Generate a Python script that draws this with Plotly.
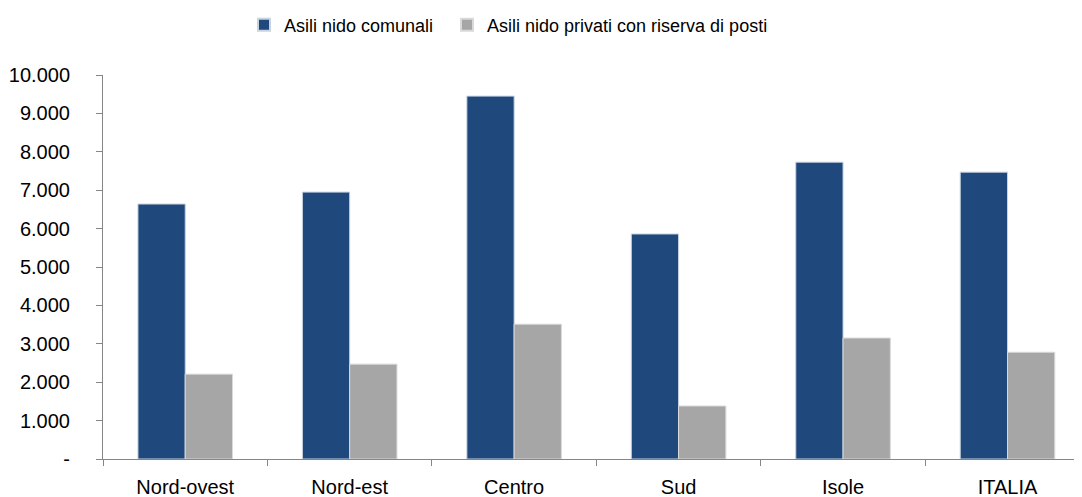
import plotly.graph_objects as go

categories = ["Nord-ovest", "Nord-est", "Centro", "Sud", "Isole", "ITALIA"]
comunali = [6640, 6950, 9450, 5860, 7730, 7470]
privati = [2210, 2470, 3510, 1380, 3150, 2780]
series_names = ["Asili nido comunali", "Asili nido privati con riserva di posti"]
y_tickvals = [0, 1000, 2000, 3000, 4000, 5000, 6000, 7000, 8000, 9000, 10000]
y_ticktext = ["-", "1.000", "2.000", "3.000", "4.000", "5.000", "6.000", "7.000", "8.000", "9.000", "10.000"]

FONT = "Liberation Sans, Arial, sans-serif"

fig = go.Figure()
fig.add_trace(go.Bar(x=categories, y=comunali, name=series_names[0], legend="legend",
                     marker=dict(color="#1F497D", line=dict(color="#c9d3e0", width=1))))
fig.add_trace(go.Bar(x=categories, y=privati, name=series_names[1], legend="legend2",
                     marker=dict(color="#A6A6A6", line=dict(color="#d9d9d9", width=1))))

leg_common = dict(orientation="h", xanchor="left", yref="container", y=0.965,
                  yanchor="middle", font=dict(family=FONT, size=18),
                  itemsizing="constant", itemwidth=30, bgcolor="rgba(0,0,0,0)")

# page has an 8px body margin, so the figure is sized to fit exactly
fig.update_layout(
    width=1074, height=489,
    margin=dict(l=95, r=0, t=67, b=38, autoexpand=False),
    paper_bgcolor="white", plot_bgcolor="white",
    barmode="group", bargap=0.425, bargroupgap=0,
    font=dict(family=FONT, size=20, color="#000000"),
    showlegend=True,
    legend=dict(x=0.144, **leg_common),
    legend2=dict(x=0.3514, **leg_common),
)
fig.update_xaxes(type="category", range=[-0.5, 5.453], tickson="boundaries",
                 showline=True, linecolor="#868686", linewidth=1,
                 ticks="outside", ticklen=6, tickcolor="#868686",
                 ticklabelstandoff=10, automargin=False,
                 showgrid=False, zeroline=False)
fig.update_yaxes(range=[0, 10000], tickvals=y_tickvals, ticktext=y_ticktext,
                 showline=True, linecolor="#868686", linewidth=1,
                 ticks="outside", ticklen=6, tickcolor="#868686",
                 ticklabelstandoff=22, automargin=False,
                 showgrid=False, zeroline=False)

fig.write_html("out.html")
